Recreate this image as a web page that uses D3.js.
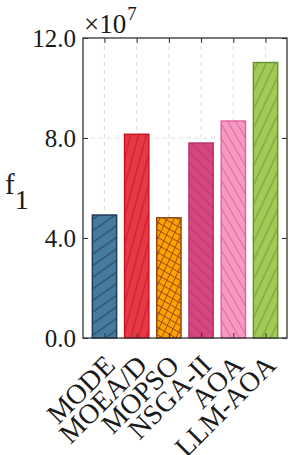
<!DOCTYPE html>
<html>
<head>
<meta charset="utf-8">
<script src="https://cdn.jsdelivr.net/npm/d3@7"></script>
<style>
  body { margin: 0; background: #fff; }
  text { font-family: "Liberation Serif", "DejaVu Serif", serif; fill: #1a1a1a; }
</style>
</head>
<body>
<script>
// data (units of 1e7)
var methods = ["MODE", "MOEA/D", "MOPSO", "NSGA-II", "AOA", "LLM-AOA"];
var values = [4.92, 8.15, 4.81, 7.8, 8.68, 11.02];
var yTicks = [0, 4, 8, 12];
var yTickLabels = ["0.0", "4.0", "8.0", "12.0"];

var fills = ["#457b9d", "#e63946", "#ffa200", "#d4487f", "#f59ac2", "#a5c957"];
var strokes = ["#1d3557", "#c8101e", "#8b4513", "#b8306a", "#e0609a", "#5f9432"];
// hatch: [rotation, spacing, second rotation or null]
var hatches = [[55, 9.5, null], [15, 7.5, null], [25, 6.5, -60], [-45, 7.5, null], [-30, 7, null], [25, 8, null]];

var W = 299, H = 455,
    margin = {top: 38, bottom: 117, left: 83, right: 12};

var svg = d3.select("body").append("svg").attr("width", W).attr("height", H);

var defs = svg.append("defs");
function addPattern(id, rot, s, col) {
  var p = defs.append("pattern")
    .attr("id", id)
    .attr("patternUnits", "userSpaceOnUse")
    .attr("width", s).attr("height", s)
    .attr("patternTransform", "rotate(" + rot + ")");
  p.append("line").attr("x1", s / 2).attr("x2", s / 2).attr("y1", -1).attr("y2", s + 1)
    .attr("stroke", col).attr("stroke-width", 1).attr("stroke-opacity", 0.85);
}
hatches.forEach(function(h, i) {
  addPattern("hatch" + i, h[0], h[1], strokes[i]);
  if (h[2] !== null) addPattern("hatchb" + i, h[2], h[1], strokes[i]);
});

var x = d3.scalePoint().domain(methods).range([margin.left, W - margin.right]).padding(0.667);
var y = d3.scaleLinear().domain([0, 12]).range([H - margin.bottom, margin.top]);
var bw = x.step() * 0.755;

// grid
svg.append("g").selectAll("line").data(methods).enter().append("line")
  .attr("x1", function(d) { return x(d); }).attr("x2", function(d) { return x(d); })
  .attr("y1", y(12)).attr("y2", y(0))
  .attr("stroke", "#d9d9d9").attr("stroke-width", 0.9).attr("stroke-dasharray", "4,4");
svg.append("g").selectAll("line").data([4, 8]).enter().append("line")
  .attr("x1", margin.left).attr("x2", W - margin.right)
  .attr("y1", function(d) { return y(d); }).attr("y2", function(d) { return y(d); })
  .attr("stroke", "#d9d9d9").attr("stroke-width", 0.9).attr("stroke-dasharray", "4,4");

// bars
function barRect(sel) {
  return sel.append("rect")
    .attr("x", function(d) { return x(d) - bw / 2; })
    .attr("y", function(d) { return y(values[methods.indexOf(d)]); })
    .attr("width", bw)
    .attr("height", function(d) { return y(0) - y(values[methods.indexOf(d)]); });
}
var bars = svg.append("g").selectAll("g").data(methods).enter().append("g");
barRect(bars).attr("fill", function(d, i) { return fills[i]; });
barRect(bars).attr("fill", function(d, i) { return "url(#hatch" + i + ")"; });
barRect(bars.filter(function(d, i) { return hatches[i][2] !== null; }))
  .attr("fill", function(d) { return "url(#hatchb" + methods.indexOf(d) + ")"; });
barRect(bars).attr("fill", "none")
  .attr("stroke", function(d, i) { return strokes[i]; })
  .attr("stroke-width", 1.4);

// axes with inward ticks
var yAxisL = svg.append("g").attr("transform", "translate(" + margin.left + ",0)")
  .call(d3.axisLeft(y).tickValues(yTicks).tickSizeInner(-5).tickSizeOuter(0)
    .tickFormat(function(d, i) { return yTickLabels[i]; }));
yAxisL.selectAll("text").attr("x", -7).style("font-size", "25px");
svg.append("g").attr("transform", "translate(" + (W - margin.right) + ",0)")
  .call(d3.axisRight(y).tickValues(yTicks).tickSizeInner(-5).tickSizeOuter(0).tickFormat(""));
svg.append("g").attr("transform", "translate(0," + margin.top + ")")
  .call(d3.axisTop(x).tickSizeInner(-5).tickSizeOuter(0).tickFormat(""));
svg.append("g").attr("transform", "translate(0," + y(0) + ")")
  .call(d3.axisBottom(x).tickSizeInner(-5).tickSizeOuter(0).tickFormat(""));

// frame
svg.append("rect").attr("x", margin.left).attr("y", margin.top)
  .attr("width", W - margin.right - margin.left).attr("height", y(0) - margin.top)
  .attr("fill", "none").attr("stroke", "#333").attr("stroke-width", 1.3);
svg.selectAll(".domain").remove();
svg.selectAll(".tick line").attr("stroke", "#333").attr("stroke-width", 1);

// x labels rotated
svg.append("g").selectAll("text").data(methods).enter().append("text")
  .attr("transform", function(d) { return "translate(" + (x(d) + 12) + "," + (y(0) + 29) + ") rotate(-45)"; })
  .attr("text-anchor", "end")
  .style("font-size", "28px")
  .text(function(d) { return d; });

// multiplier (two separate texts)
var mult = svg.append("text").attr("x", 84).attr("y", 33).style("font-size", "27px").text("\u00d710");
var mw = mult.node().getComputedTextLength();
svg.append("text").attr("x", 84 + mw + 1).attr("y", 20).style("font-size", "19px").text("7");

// y label
var yl = svg.append("text").attr("x", 5).attr("y", 194).style("font-size", "29px");
yl.append("tspan").text("f");
yl.append("tspan").attr("dy", 15).style("font-size", "28px").text("1");
</script>
</body>
</html>
